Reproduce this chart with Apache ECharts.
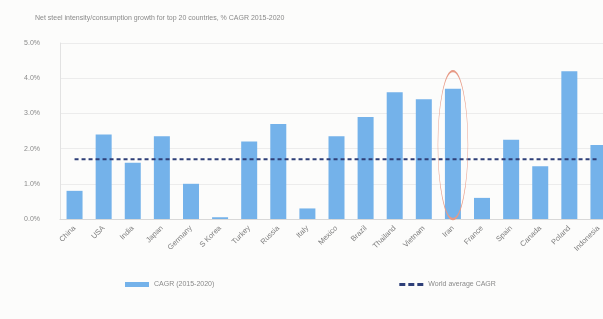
<!DOCTYPE html>
<html>
<head>
<meta charset="utf-8">
<script src="https://cdn.jsdelivr.net/npm/echarts@6/dist/echarts.min.js"></script>
<style>
  html, body { margin: 0; padding: 0; background: #fcfcfb; }
  #main { width: 603px; height: 319px; }
</style>
</head>
<body>
<div id="main"></div>
<script>
const countries = ['China', 'USA', 'India', 'Japan', 'Germany', 'S Korea', 'Turkey', 'Russia', 'Italy', 'Mexico',
  'Brazil', 'Thailand', 'Vietnam', 'Iran', 'France', 'Spain', 'Canada', 'Poland', 'Indonesia'];
const cagr = [0.8, 2.4, 1.6, 2.35, 1.0, 0.05, 2.2, 2.7, 0.3, 2.35, 2.9, 3.6, 3.4, 3.7, 0.6, 2.25, 1.5, 4.2, 2.1];
const worldAvg = countries.map(() => 1.7);
const yTicks = [0, 1, 2, 3, 4, 5];

const chart = echarts.init(document.getElementById('main'));
chart.setOption({
  animation: false,
  title: {
    text: 'Net steel intensity/consumption growth for top 20 countries, % CAGR 2015-2020',
    left: 30,
    top: 10,
    textStyle: { fontSize: 7, color: '#8a8a8a', fontWeight: 'normal', fontFamily: 'Liberation Sans' }
  },
  legend: {
    bottom: 26,
    left: 120,
    itemGap: 185,
    itemWidth: 24,
    itemHeight: 5,
    textStyle: { fontSize: 7, color: '#8a8a8a', fontFamily: 'Liberation Sans' },
    data: [
      { name: 'CAGR (2015-2020)', icon: 'rect' },
      { name: 'World average CAGR', icon: 'path://M0,0h4v2h-4z M6,0h4v2h-4z M12,0h4v2h-4z' }
    ]
  },
  grid: { left: 60, width: 553, top: 43, bottom: 100, containLabel: false, outerBoundsMode: 'none' },
  xAxis: {
    type: 'category',
    data: countries,
    axisLine: { lineStyle: { color: '#d8d8d8' } },
    axisTick: { show: false },
    axisLabel: { rotate: 45, interval: 0, fontSize: 7.5, color: '#7e7e7e', fontFamily: 'Liberation Sans' }
  },
  yAxis: {
    type: 'value',
    min: yTicks[0],
    max: yTicks[yTicks.length - 1],
    interval: 1,
    axisLine: { show: true, lineStyle: { color: '#e2e2e2' } },
    axisLabel: {
      fontSize: 7, color: '#8a8a8a', fontFamily: 'Liberation Sans', margin: 20,
      formatter: v => v.toFixed(1) + '%'
    },
    splitLine: { lineStyle: { color: '#ececec' } }
  },
  series: [
    {
      name: 'CAGR (2015-2020)',
      type: 'bar',
      data: cagr,
      barWidth: 16,
      itemStyle: { color: '#74b2ea' },
      markPoint: {
        silent: true,
        symbol: 'circle',
        symbolSize: [30, 148],
        label: { show: false },
        itemStyle: { color: 'rgba(0,0,0,0)', borderColor: '#e79a86', borderWidth: 1 },
        data: [{ coord: ['Iran', 2.1] }]
      }
    },
    {
      name: 'World average CAGR',
      type: 'line',
      data: worldAvg,
      symbol: 'none',
      itemStyle: { color: '#2e3f78' },
      lineStyle: { color: '#2e3f78', width: 2, type: [4, 3] }
    }
  ]
});
</script>
</body>
</html>
